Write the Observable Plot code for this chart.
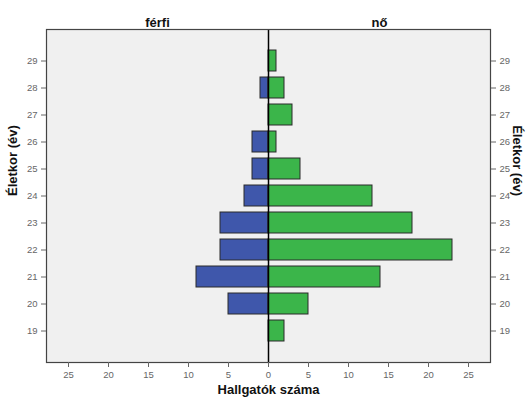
<!DOCTYPE html>
<html><head><meta charset="utf-8">
<script src="https://cdn.jsdelivr.net/npm/d3@7"></script>
<script src="https://cdn.jsdelivr.net/npm/@observablehq/plot@0.6"></script>
<style>body{margin:0;background:#fff;}</style>
</head><body><div id="chart"></div>
<script>
const ages = [19,20,21,22,23,24,25,26,27,28,29];
const male = [0,5,9,6,6,3,2,2,0,1,0];
const female = [2,5,14,23,18,13,4,1,3,2,1];
const xTicks = [-25,-20,-15,-10,-5,0,5,10,15,20,25];
const groups = ["férfi","nő"];
const colors = ["#3f57ab","#3bb54a"];
const xLabel = "Hallgatók száma";
const yLabel = "Életkor (év)";
const xMax = 27.75;

const rows = [];
ages.forEach((a,i)=>{
  if (male[i] > 0) rows.push({age:a, value:-male[i], sex:groups[0]});
  if (female[i] > 0) rows.push({age:a, value:female[i], sex:groups[1]});
});

const bold = {fontSize: 13, fontWeight: "bold", fill: "#111"};

const chart = Plot.plot({
  width: 526, height: 400,
  marginLeft: 46, marginRight: 36, marginTop: 29, marginBottom: 38,
  style: {fontFamily: "'Liberation Sans', Arial, sans-serif", background: "#fff"},
  x: {domain: [-xMax, xMax]},
  y: {type: "band", domain: ages.slice().reverse(), paddingInner: 0.23, paddingOuter: 0.715},
  color: {domain: groups, range: colors},
  marks: [
    Plot.frame({fill: "#f0f0f0", stroke: null}),
    Plot.barX(rows, {x1: () => 0, x2: "value", y: "age", fill: "sex", stroke: "#2a2a2a", strokeWidth: 1}),
    Plot.ruleX([0], {stroke: "#000", strokeWidth: 1.5}),
    Plot.frame({stroke: "#444", strokeWidth: 1.2}),
    Plot.axisX({ticks: xTicks, tickFormat: d => Math.abs(d), tickSize: 5, fontSize: 9.5, color: "#666", label: null}),
    Plot.axisY({anchor: "left", tickSize: 5, fontSize: 9.5, color: "#666", label: null}),
    Plot.axisY({anchor: "right", tickSize: 5, fontSize: 9.5, color: "#666", label: null}),
    Plot.text([xLabel], {text: d => d, frameAnchor: "bottom", dy: 31, ...bold}),
    Plot.text([yLabel], {text: d => d, frameAnchor: "left", dx: -34, rotate: -90, ...bold}),
    Plot.text([yLabel], {text: d => d, frameAnchor: "right", dx: 27, rotate: 90, ...bold}),
    Plot.text(groups, {x: (d, i) => (i === 0 ? -xMax / 2 : xMax / 2), text: d => d, frameAnchor: "top", dy: -12, ...bold})
  ]
});
document.getElementById("chart").appendChild(chart);
</script>
</body></html>
